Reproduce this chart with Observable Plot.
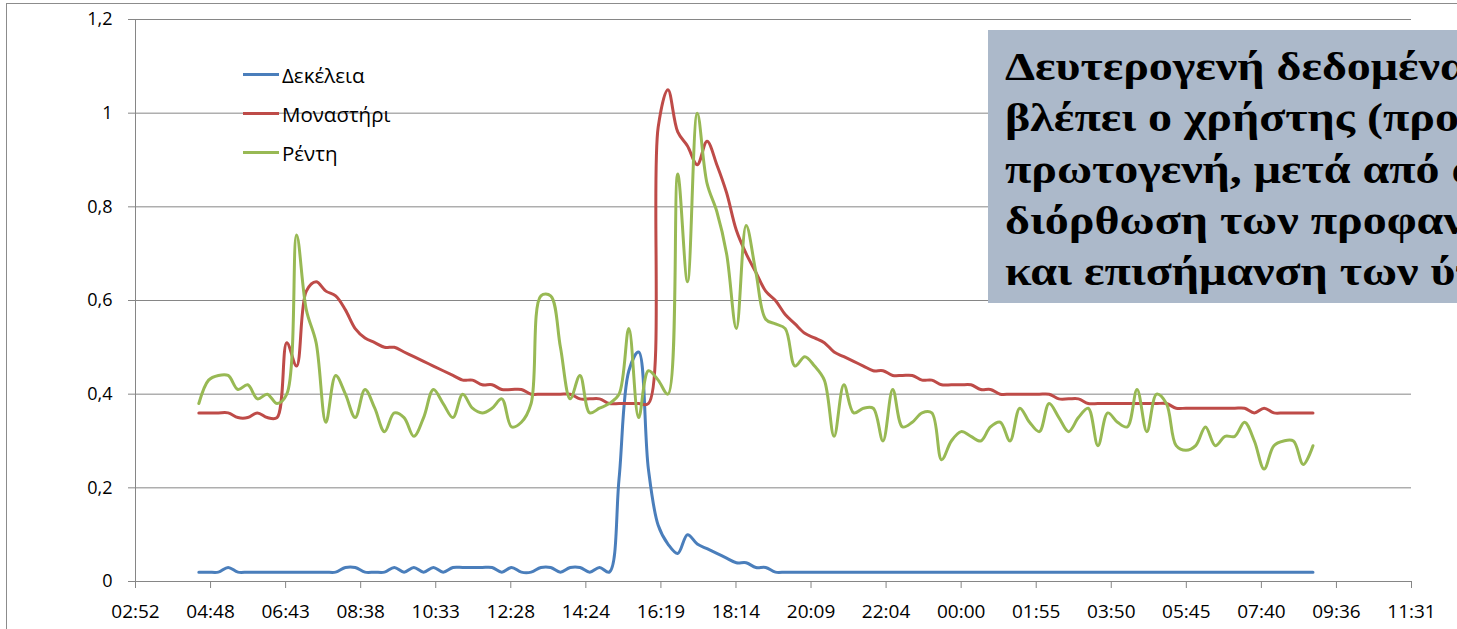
<!DOCTYPE html>
<html>
<head>
<meta charset="utf-8">
<script src="https://cdn.jsdelivr.net/npm/d3@7"></script>
<script src="https://cdn.jsdelivr.net/npm/@observablehq/plot@0.6"></script>
<style>
html, body { margin: 0; padding: 0; width: 1457px; height: 629px; overflow: hidden; background: #fff; }
#chart { position: absolute; left: 0; top: 0; }
#frame { position: absolute; left: 6px; top: 3px; width: 1600px; height: 800px; border-left: 1px solid #8c8c8c; border-top: 1px solid #8c8c8c; box-sizing: border-box; pointer-events: none; }
#legend { position: absolute; left: 243px; top: 55px; font-family: "Open Sans", sans-serif; font-size: 20.5px; color: #000; }
#legend .row { height: 39px; display: flex; align-items: center; }
#legend .sw { width: 36px; height: 3px; margin-right: 3px; }
#note { position: absolute; left: 988px; top: 30px; width: 700px; height: 273px; background: #ACB9CA; box-sizing: border-box; padding: 11px 0 0 17px; overflow: hidden; }
#noteText { font-family: "Liberation Serif", serif; font-weight: bold; font-size: 40px; line-height: 51.3px; color: #000; white-space: nowrap; transform: scaleX(1.2); transform-origin: 0 0; }
</style>
</head>
<body>
<div id="chart"></div>
<div id="frame"></div>
<div id="legend"></div>
<div id="note"><div id="noteText"></div></div>
<script>
// ---- data ----
const seriesNames = ["Δεκέλεια", "Μοναστήρι", "Ρέντη"];
const seriesColors = ["#4A7EBB", "#BE4B48", "#98B954"];
const startTime = "04:30";   // first reading (day 1)
const stepMinutes = 15;      // sampling interval

const dekeleia = [
  0.02,0.02,0.02,0.03,0.02,0.02,0.02,0.02,0.02,0.02,
  0.02,0.02,0.02,0.02,0.02,0.03,0.03,0.02,0.02,0.02,
  0.03,0.02,0.03,0.02,0.03,0.02,0.03,0.03,0.03,0.03,
  0.03,0.02,0.03,0.02,0.02,0.03,0.03,0.02,0.03,0.03,
  0.02,0.03,0.02,0.22,0.45,0.49,0.24,0.12,0.08,0.06,
  0.10,0.08,0.07,0.06,0.05,0.04,0.04,0.03,0.03,0.02,
  0.02,0.02,0.02,0.02,0.02,0.02,0.02,0.02,0.02,0.02,
  0.02,0.02,0.02,0.02,0.02,0.02,0.02,0.02,0.02,0.02,
  0.02,0.02,0.02,0.02,0.02,0.02,0.02,0.02,0.02,0.02,
  0.02,0.02,0.02,0.02,0.02,0.02,0.02,0.02,0.02,0.02,
  0.02,0.02,0.02,0.02,0.02,0.02,0.02,0.02,0.02,0.02,
  0.02,0.02,0.02,0.02,0.02
];
const monastiri = [
  0.36,0.36,0.36,0.36,0.35,0.35,0.36,0.35,0.35,0.51,
  0.46,0.62,0.64,0.62,0.61,0.58,0.54,0.52,0.51,0.50,
  0.50,0.49,0.48,0.47,0.46,0.45,0.44,0.43,0.43,0.42,
  0.42,0.41,0.41,0.41,0.40,0.40,0.40,0.40,0.40,0.39,
  0.39,0.39,0.38,0.38,0.38,0.38,0.38,0.97,1.05,0.96,
  0.93,0.89,0.94,0.89,0.83,0.75,0.70,0.66,0.62,0.60,
  0.57,0.55,0.53,0.52,0.51,0.49,0.48,0.47,0.46,0.45,
  0.45,0.44,0.44,0.44,0.43,0.43,0.42,0.42,0.42,0.42,
  0.41,0.41,0.40,0.40,0.40,0.40,0.40,0.40,0.39,0.39,
  0.39,0.38,0.38,0.38,0.38,0.38,0.38,0.38,0.38,0.38,
  0.37,0.37,0.37,0.37,0.37,0.37,0.37,0.37,0.36,0.37,
  0.36,0.36,0.36,0.36,0.36
];
const renti = [
  0.38,0.43,0.44,0.44,0.41,0.42,0.39,0.40,0.38,0.40,
  0.74,0.58,0.51,0.34,0.44,0.40,0.35,0.41,0.37,0.32,
  0.36,0.35,0.31,0.35,0.41,0.38,0.35,0.40,0.37,0.36,
  0.37,0.39,0.33,0.34,0.38,0.61,0.61,0.50,0.39,0.44,
  0.36,0.37,0.38,0.40,0.54,0.35,0.45,0.43,0.40,0.87,
  0.64,1.00,0.85,0.79,0.70,0.54,0.76,0.66,0.56,0.55,
  0.54,0.46,0.48,0.46,0.43,0.31,0.42,0.36,0.37,0.37,
  0.30,0.41,0.33,0.34,0.36,0.36,0.26,0.30,0.32,0.31,
  0.30,0.33,0.34,0.30,0.37,0.34,0.32,0.38,0.35,0.32,
  0.35,0.37,0.29,0.36,0.34,0.33,0.41,0.32,0.40,0.38,
  0.29,0.28,0.29,0.33,0.29,0.31,0.31,0.34,0.30,0.24,
  0.29,0.30,0.30,0.25,0.29
];

// axis ticks (x in days from midnight of day 1)
const xTickValues = [0.12,0.20,0.28,0.36,0.44,0.52,0.60,0.68,0.76,0.84,0.92,1.00,1.08,1.16,1.24,1.32,1.40,1.48];
const xTickLabels = ["02:52","04:48","06:43","08:38","10:33","12:28","14:24","16:19","18:14","20:09","22:04","00:00","01:55","03:50","05:45","07:40","09:36","11:31"];
const yTickValues = [0, 0.2, 0.4, 0.6, 0.8, 1, 1.2];
const yTickLabels = ["0","0,2","0,4","0,6","0,8","1","1,2"];

const noteLines = [
  "Δευτερογενή δεδομένα που",
  "βλέπει ο χρήστης (προκύπτουν από τα",
  "πρωτογενή, μετά από αυτόματη",
  "διόρθωση των προφανών λαθών",
  "και επισήμανση των ύποπτων τιμών)"
];

// ---- build table ----
const [sh, sm] = startTime.split(":").map(Number);
const t0 = (sh * 60 + sm) / 1440;
const seriesValues = [dekeleia, monastiri, renti];
const rows = [];
seriesValues.forEach((vals, s) => {
  vals.forEach((v, i) => rows.push({series: seriesNames[s], t: t0 + i * stepMinutes / 1440, v}));
});

const gridColor = "#868686";
const chart = Plot.plot({
  width: 1457,
  height: 629,
  marginLeft: 135,
  marginRight: 46,
  marginTop: 19,
  marginBottom: 48,
  style: {fontFamily: "Open Sans, sans-serif", fontSize: "19px", color: "#000", background: "transparent", overflow: "visible"},
  x: {domain: [xTickValues[0], xTickValues[xTickValues.length - 1]]},
  y: {domain: [yTickValues[0], yTickValues[yTickValues.length - 1]]},
  color: {domain: seriesNames, range: seriesColors},
  marks: [
    Plot.gridY(yTickValues.slice(1), {stroke: gridColor, strokeOpacity: 1, strokeWidth: 1}),
    Plot.ruleX([xTickValues[0]], {stroke: gridColor}),
    Plot.ruleY([yTickValues[0]], {stroke: gridColor}),
    Plot.axisX(xTickValues, {tickFormat: d => xTickLabels[xTickValues.indexOf(d)], tickSize: 7, tickPadding: 16, stroke: gridColor, fill: "#000", label: null, fontSize: 19}),
    Plot.axisY(yTickValues, {tickFormat: d => yTickLabels[yTickValues.indexOf(d)], tickSize: 7, tickPadding: 16, stroke: gridColor, fill: "#000", label: null, fontSize: 18}),
    Plot.line(rows, {x: "t", y: "v", z: "series", stroke: "series", strokeWidth: 3, curve: "catmull-rom"})
  ]
});
document.getElementById("chart").appendChild(chart);

// legend
const legend = document.getElementById("legend");
seriesNames.forEach((name, i) => {
  const row = document.createElement("div");
  row.className = "row";
  const sw = document.createElement("span");
  sw.className = "sw";
  sw.style.background = seriesColors[i];
  const label = document.createElement("span");
  label.textContent = name;
  row.appendChild(sw);
  row.appendChild(label);
  legend.appendChild(row);
});

// note box
const noteText = document.getElementById("noteText");
noteLines.forEach(line => {
  const d = document.createElement("div");
  d.textContent = line;
  noteText.appendChild(d);
});
</script>
</body>
</html>
